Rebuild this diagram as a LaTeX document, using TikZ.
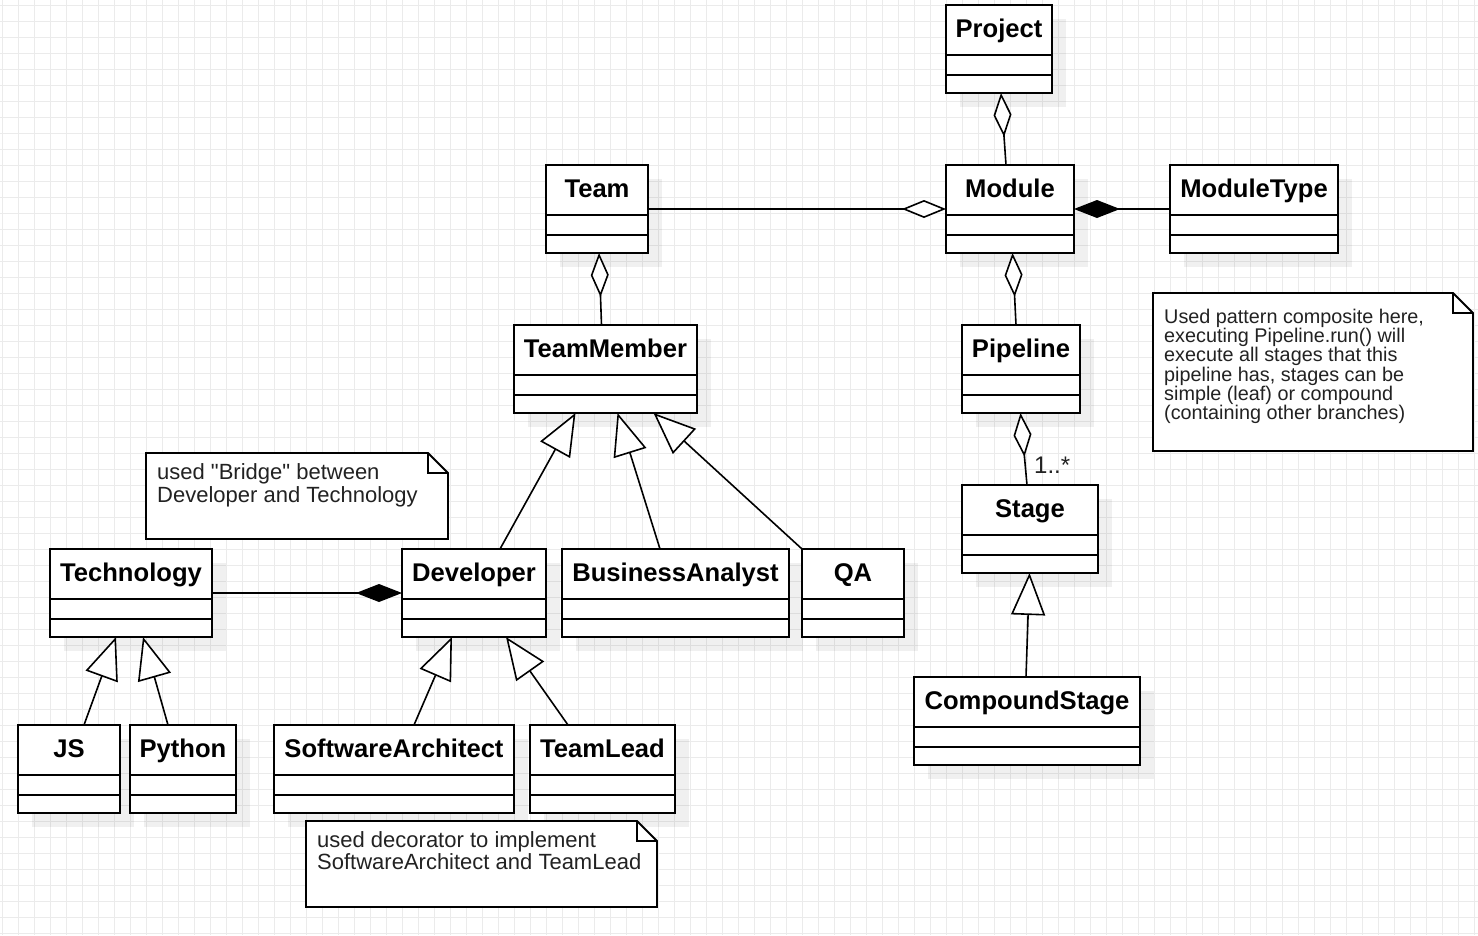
\documentclass[tikz,border=0pt]{standalone}
\usepackage{fontspec}
\setmainfont{Liberation Sans}
\newfontfamily\plainfont{Liberation Sans}
\usetikzlibrary{arrows.meta}
\pgfdeclarelayer{gridlayer}
\pgfdeclarelayer{shadowlayer}
\pgfsetlayers{gridlayer,shadowlayer,main}
\definecolor{gridc}{RGB}{235,235,235}
\definecolor{notec}{RGB}{34,34,34}
\tikzset{
  clsbox/.style={draw=black, fill=white, line width=1.8pt, inner sep=0pt, outer sep=0pt},
  clssep/.style={draw=black, line width=1.8pt},
  clstitle/.style={font=\fontsize{25.6}{30}\selectfont\bfseries, inner sep=0pt, anchor=base},
  shadowbox/.style={fill=black, fill opacity=0.06, draw=none},
  gridline/.style={draw=gridc, line width=1pt},
  conn/.style={draw=black, line width=1.6pt},
  aggr/.style={conn, {Diamond[fill=white,length=44pt,width=18pt]}-},
  compo/.style={conn, {Diamond[length=46pt,width=18pt]}-},
  gener/.style={conn, -{Triangle[fill=white,length=42pt,width=34pt]}},
  notebox/.style={inner sep=0pt, outer sep=0pt, draw=none},
  noteline/.style={draw=black, fill=white, line width=1.8pt},
  notetext/.style={anchor=north west, inner sep=0pt, align=left, text=notec},
}
% name, left, top, right, bottom, title
\newcommand\umlclass[6]{%
  \node[clsbox, minimum width={(#4)-(#2)}, minimum height={(#5)-(#3)}] (#1) at ({((#2)+(#4))/2},{((#3)+(#5))/2}) {};
  \begin{pgfonlayer}{shadowlayer}
    \fill[shadowbox] ([xshift=14pt,yshift=-14pt]#1.north west) rectangle ([xshift=14pt,yshift=-14pt]#1.south east);
  \end{pgfonlayer}
  \draw[clssep] ([yshift=-50pt]#1.north west) -- ([yshift=-50pt]#1.north east);
  \draw[clssep] ([yshift=-70pt]#1.north west) -- ([yshift=-70pt]#1.north east);
  \node[clstitle] (#1-t) at ([yshift=-32.5pt]#1.north) {#6};
}
% name, left, top, right, bottom
\newcommand\umlnote[5]{%
  \node[notebox, minimum width={(#4)-(#2)}, minimum height={(#5)-(#3)}] (#1) at ({((#2)+(#4))/2},{((#3)+(#5))/2}) {};
  \draw[noteline] (#1.north west) -- ([xshift=-20pt]#1.north east) -- ([yshift=-20pt]#1.north east) -- (#1.south east) -- (#1.south west) -- cycle;
  \draw[noteline, fill=none] ([xshift=-20pt]#1.north east) -- ([xshift=-20pt,yshift=-20pt]#1.north east) -- ([yshift=-20pt]#1.north east);
}
\begin{document}
\begin{tikzpicture}[x=1pt, y=-1pt]
\useasboundingbox (0,0) rectangle (1478,935);
\begin{pgfonlayer}{gridlayer}
  \fill[white] (0,0) rectangle (1478,935);
  \foreach \i in {0,...,92} \draw[gridline] ({2+16*\i},0) -- ({2+16*\i},935);
  \foreach \j in {0,...,58} \draw[gridline] (0,{5.3+16*\j}) -- (1478,{5.3+16*\j});
\end{pgfonlayer}

% classes
\umlclass{proj}{946}{5}{1052}{93}{Project}
\umlclass{team}{546}{165}{648}{253}{Team}
\umlclass{mod}{946}{165}{1074}{253}{Module}
\umlclass{mtype}{1170}{165}{1338}{253}{ModuleType}
\umlclass{tm}{514}{325}{697}{413}{TeamMember}
\umlclass{pipe}{962}{325}{1080}{413}{Pipeline}
\umlclass{stage}{962}{485}{1098}{573}{Stage}
\umlclass{tech}{50}{549}{212}{637}{Technology}
\umlclass{dev}{402}{549}{546}{637}{Developer}
\umlclass{ba}{562}{549}{789}{637}{BusinessAnalyst}
\umlclass{qa}{802}{549}{904}{637}{QA}
\umlclass{cs}{914}{677}{1140}{765}{CompoundStage}
\umlclass{js}{18}{725}{120}{813}{JS}
\umlclass{py}{130}{725}{236}{813}{Python}
\umlclass{sa}{274}{725}{514}{813}{SoftwareArchitect}
\umlclass{tl}{530}{725}{675}{813}{TeamLead}

% notes
\umlnote{nbridge}{146}{453}{448}{539}
\node[notetext, font=\plainfont\fontsize{22}{22.4}\selectfont] (nbridge-t) at (157,462.5) {\rule{0pt}{17pt}used "Bridge" between\\Developer and Technology};
\umlnote{ndeco}{306}{821}{657}{907}
\node[notetext, font=\plainfont\fontsize{22}{22.4}\selectfont] (ndeco-t) at (317,830) {\rule{0pt}{17pt}used decorator to implement\\SoftwareArchitect and TeamLead};
\umlnote{ncomp}{1153}{293}{1473}{451}
\node[notetext, font=\plainfont\fontsize{19.8}{19.2}\selectfont] (ncomp-t) at (1164,308.3) {\rule{0pt}{15pt}Used pattern composite here,\\executing Pipeline.run() will\\execute all stages that this\\pipeline has, stages can be\\simple (leaf) or compound\\(containing other branches)};

% connectors
\draw[aggr] ([xshift=2pt]proj.south) -- ([xshift=-4pt]mod.north);
\draw[aggr] (mod.west) -- (team.east);
\draw[compo] (mod.east) -- (mtype.west);
\draw[aggr] ([xshift=2pt]team.south) -- ([xshift=-4pt]tm.north);
\draw[aggr] ([xshift=2.5pt]mod.south) -- ([xshift=-5pt]pipe.north);
\draw[aggr] ([xshift=-0.5pt]pipe.south) -- ([xshift=-3pt]stage.north);
\node[anchor=base west, inner sep=0pt, text=notec, font=\fontsize{24}{24}\selectfont] (mult) at ([xshift=4pt,yshift=12pt]stage.north) {1..*};
\draw[gener] ([xshift=-1pt]cs.north) -- ([xshift=-0.5pt]stage.south);
\draw[gener] ([xshift=26pt]dev.north) -- ([xshift=-30pt]tm.south);
\draw[gener] ([xshift=-15.5pt]ba.north) -- ([xshift=12pt]tm.south);
\draw[gener] (qa.north west) -- ([xshift=48pt]tm.south);
\draw[gener] ([xshift=20pt]sa.north) -- ([xshift=-22pt]dev.south);
\draw[gener] ([xshift=-34.5pt]tl.north) -- ([xshift=32pt]dev.south);
\draw[compo] (dev.west) -- (tech.east);
\draw[gener] ([xshift=15pt]js.north) -- ([xshift=-15pt]tech.south);
\draw[gener] ([xshift=-15pt]py.north) -- ([xshift=12pt]tech.south);
\end{tikzpicture}
\end{document}
